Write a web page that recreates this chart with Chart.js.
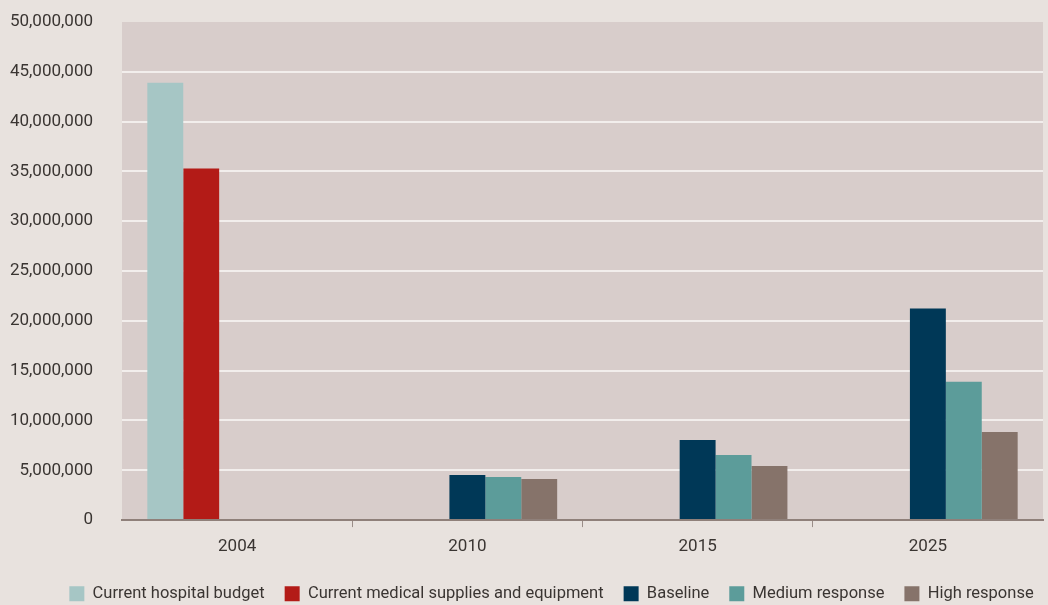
<!DOCTYPE html>
<html>
<head>
<meta charset="utf-8">
<script src="https://cdn.jsdelivr.net/npm/chart.js@4"></script>
<style>
  html, body { margin: 0; padding: 0; background: #e8e2de; }
  #wrap { width: 1048px; height: 605px; }
</style>
</head>
<body>
<div id="wrap"><canvas id="chartCanvas" width="1048" height="605"></canvas></div>
<script>
// Categories and series
const years = ['2004', '2010', '2015', '2025'];
const hospitalBudget = [43900000, null, null, null];
const medicalSupplies = [35300000, null, null, null];
const baseline = [null, 4530000, 8050000, 21230000];
const mediumResponse = [null, 4330000, 6540000, 13880000];
const highResponse = [null, 4120000, 5430000, 8850000];

const seriesNames = ['Current hospital budget', 'Current medical supplies and equipment', 'Baseline', 'Medium response', 'High response'];
const seriesColors = ['#a6c6c5', '#b31b17', '#003857', '#5c9c9a', '#86736a'];

const fontFamily = 'Roboto, "Liberation Sans", sans-serif';

// Fill the plot area
const plotBg = {
  id: 'plotBg',
  beforeDraw(chart) {
    const a = chart.chartArea;
    const ctx = chart.ctx;
    ctx.save();
    ctx.fillStyle = '#d8cdcb';
    ctx.fillRect(a.left, a.top, a.right - a.left, a.bottom - a.top);
    ctx.restore();
  }
};

// The legend in the original sits a bit right of centre
const legendShift = {
  id: 'legendShift',
  afterLayout(chart) {
    chart.legend.left += 30;
    chart.legend.right += 30;
  }
};

const allSeries = [hospitalBudget, medicalSupplies, baseline, mediumResponse, highResponse];

const chartCanvas = document.getElementById('chartCanvas');
const myChart = new Chart(chartCanvas, {
  type: 'bar',
  data: {
    labels: years,
    datasets: allSeries.map((d, i) => ({
      label: seriesNames[i],
      data: d,
      backgroundColor: seriesColors[i],
      borderWidth: 0,
      categoryPercentage: 0.78,
      barPercentage: 1
    }))
  },
  options: {
    responsive: false,
    animation: false,
    layout: { padding: { top: 22, right: 5, left: 0, bottom: -7 } },
    plugins: {
      legend: {
        position: 'bottom',
        labels: {
          color: '#3a3532',
          font: { family: fontFamily, size: 16.5 },
          boxWidth: 15,
          boxHeight: 15,
          padding: 20
        }
      },
      tooltip: { enabled: false }
    },
    scales: {
      x: {
        grid: {
          offset: true,
          drawOnChartArea: false,
          tickLength: 7,
          color: function(ctx) {
            // only the inner category separators get a tick mark
            return (ctx.type !== 'tick' || ctx.index === 0) ? 'rgba(0,0,0,0)' : '#9a8d88';
          }
        },
        border: { color: '#8f807a', width: 2 },
        ticks: {
          color: '#3a3532',
          font: { family: fontFamily, size: 17 },
          padding: 9
        }
      },
      y: {
        min: 0,
        max: 50000000,
        afterFit: function(scale) { scale.width = 122; },
        grid: {
          tickLength: 29,
          tickColor: 'rgba(0,0,0,0)',
          lineWidth: 2,
          color: function(ctx) {
            return (ctx.tick && (ctx.tick.value === 50000000 || ctx.tick.value === 0)) ? 'rgba(0,0,0,0)' : '#f2eeec';
          }
        },
        border: { display: false },
        ticks: {
          stepSize: 5000000,
          color: '#3a3532',
          padding: 0,
          font: { family: fontFamily, size: 17 },
          callback: function(value) {
            return value.toLocaleString('en-US');
          }
        }
      }
    }
  },
  plugins: [plotBg, legendShift]
});
</script>
</body>
</html>
